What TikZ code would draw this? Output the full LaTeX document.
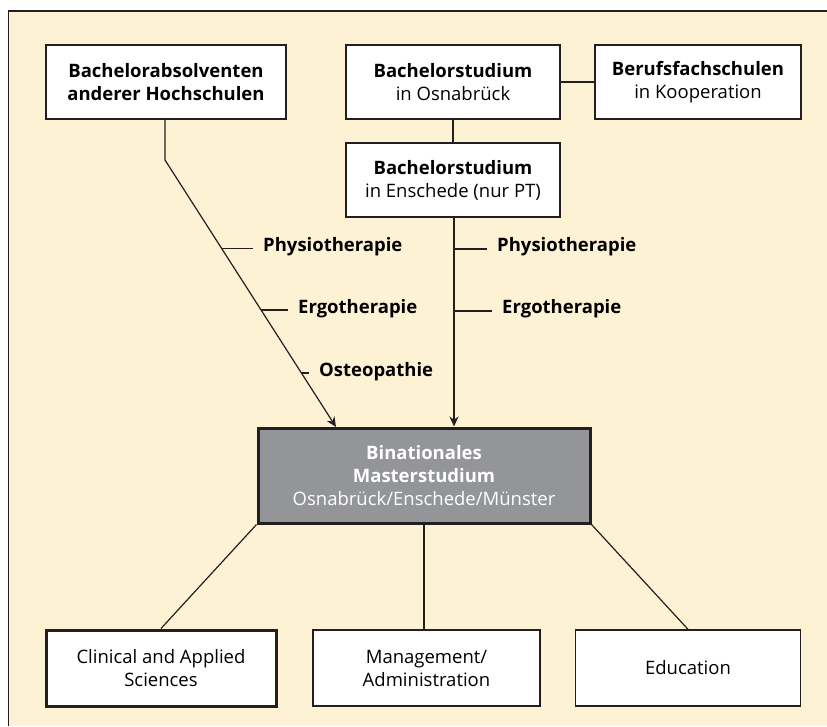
\documentclass[tikz,border=0pt]{standalone}
\usepackage{fontspec}
\setmainfont{Open Sans}
\usetikzlibrary{arrows.meta,calc}
\definecolor{cream}{HTML}{FEF2D5}
\definecolor{boxgray}{HTML}{939598}
\definecolor{ink}{HTML}{231F20}
\tikzset{>={Stealth[length=10pt,width=9pt]},
  box/.style = {draw=ink, line width=1.4pt, fill=white, align=center,
    inner sep=0pt, minimum height=74pt, font=\fontsize{18.5}{23}\selectfont},
  thickbox/.style = {box, line width=3pt},
  master/.style = {thickbox, fill=boxgray, text=white, minimum height=95pt},
  lbl/.style = {inner xsep=10pt, inner ysep=2pt, font=\fontsize{18.5}{22}\selectfont\bfseries},
  link/.style = {draw=ink, line width=1.2pt}}

\begin{document}
\begin{tikzpicture}[x=1pt,y=-1pt]
    \useasboundingbox (0,0) rectangle (827,726);
    \fill[cream] (8.5,11) rectangle (827,726);
    \draw[ink,line width=1.3pt] (827,11) -- (8.5,11) -- (8.5,726);
    % top row
    \node[box,minimum width=240pt] (absolv) at (166,82)
      {\textbf{Bachelorabsolventen}\\\textbf{anderer Hochschulen}};
    \node[box,minimum width=214pt] (osna) at (453,82)
      {\textbf{Bachelorstudium}\\in Osnabrück};
    \node[box,minimum width=206pt] (beruf) at (698,82)
      {\textbf{Berufsfachschulen}\\in Kooperation};
    \node[box,minimum width=214pt] (ensch) at (453,180)
      {\textbf{Bachelorstudium}\\in Enschede (nur PT)};
    % master
    \node[master,minimum width=332pt] (msc) at (424,475.5)
      {\textbf{Binationales}\\\textbf{Masterstudium}\\Osnabrück/Enschede/Münster};
    % bottom row
    \node[thickbox,minimum width=230pt,minimum height=76pt] (clin) at (161,668)
      {Clinical and Applied\\Sciences};
    \node[box,minimum width=227pt,minimum height=76pt] (mgmt) at (426.5,668)
      {Management/\\Administration};
    \node[box,minimum width=225pt,minimum height=76pt] (edu) at (688,668)
      {Education};
    % connectors top
    \draw[link] (osna.east) -- (beruf.west);
    \draw[link] (osna.south) -- (ensch.north);
    \coordinate (bend) at (165,160);
    \coordinate (tip) at (336,427);
    \coordinate (vx) at (454,0);
    \coordinate (mx) at (424,0);
    \draw[link,->] (absolv.south -| bend) -- (bend) -- (tip)
      coordinate[pos=0.33] (tA1) coordinate[pos=0.562] (tA2) coordinate[pos=0.798] (tA3);
    \draw[link,->] (ensch.south -| vx) -- (msc.north -| vx);
    % labels left
    \node[lbl,anchor=mid west] (physA) at (253,249) {Physiotherapie};
    \node[lbl,anchor=mid west] (ergoA) at (288,311) {Ergotherapie};
    \node[lbl,anchor=mid west] (osteoA) at (309,374) {Osteopathie};
    \draw[link] (tA1) -- (tA1 -| physA.west);
    \draw[link] (tA2) -- (tA2 -| ergoA.west);
    \draw[link] (tA3) -- (tA3 -| osteoA.west);
    % labels right
    \node[lbl,anchor=mid west] (physB) at (487,249) {Physiotherapie};
    \node[lbl,anchor=mid west] (ergoB) at (492,311) {Ergotherapie};
    \draw[link] (vx |- physB.mid west) -- (physB.mid west);
    \draw[link] (vx |- ergoB.mid west) -- (ergoB.mid west);
    % connectors bottom
    \draw[link] (msc.south west) -- (clin.north);
    \draw[link] (msc.south -| mx) -- (mgmt.north -| mx);
    \draw[link] (msc.south east) -- (edu.north);
\end{tikzpicture}
\end{document}
